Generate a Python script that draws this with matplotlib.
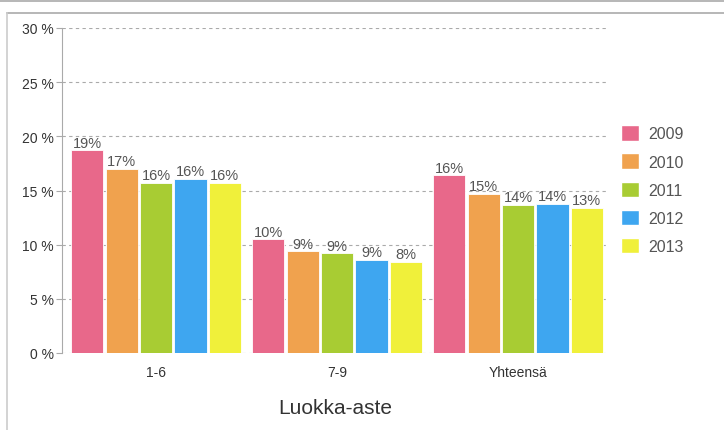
import matplotlib
matplotlib.use("Agg")
import matplotlib.pyplot as plt
from matplotlib.lines import Line2D
from matplotlib.patches import Patch
import numpy as np

plt.rcParams['font.family'] = ['Liberation Sans', 'DejaVu Sans']

categories = ["1-6", "7-9", "Yhteensä"]
years = ["2009", "2010", "2011", "2012", "2013"]
values = {
    "2009": [18.7, 10.5, 16.4],
    "2010": [17.0, 9.4, 14.7],
    "2011": [15.7, 9.2, 13.7],
    "2012": [16.1, 8.6, 13.8],
    "2013": [15.7, 8.4, 13.4],
}
colors = ["#e8688a", "#f0a24e", "#a8cc33", "#3ea6f0", "#f0f03a"]
yticks = [0, 5, 10, 15, 20, 25, 30]

fig = plt.figure(figsize=(7.24, 4.31), dpi=100)
ax = fig.add_axes([62/724, 1-354/431, 546/724, (354-29)/431])

x = np.arange(len(categories))
pitch = 0.19
width = 0.178
for i, (yr, c) in enumerate(zip(years, colors)):
    pos = x + (i - 2) * pitch
    ax.bar(pos, values[yr], width=width, color=c, edgecolor="white", linewidth=0.6, zorder=3)
    for xp, v in zip(pos, values[yr]):
        ax.text(xp, v + 0.05, f"{round(v):.0f}%", ha="center", va="bottom",
                fontsize=10.5, color="#555555", zorder=4)

ax.set_xlim(-0.52, 2.497)
ax.set_ylim(0, 30)
ax.set_yticks(yticks)
ax.set_yticklabels([f"{t} %" for t in yticks], fontsize=10, color="#333333")
ax.set_xticks(x)
ax.set_xticklabels(categories, fontsize=10, color="#333333")
ax.tick_params(axis="x", length=0, pad=9)
ax.tick_params(axis="y", length=4, color="#aaaaaa", pad=2)
for yv in yticks:
    ax.axhline(yv, color="#aaaaaa", linestyle=(0, (3, 3)), linewidth=0.8, zorder=1)
for s in ["top", "right", "bottom"]:
    ax.spines[s].set_visible(False)
ax.spines["left"].set_color("#aaaaaa")
ax.spines["left"].set_linewidth(0.8)
ax.set_xlabel("Luokka-aste", fontsize=15, color="#333333", labelpad=13)

handles = [Patch(facecolor=c, edgecolor="white") for c in colors]
fig.legend(handles, years, loc="upper left", bbox_to_anchor=(607/724, 1-112/431),
           frameon=False, fontsize=11.5, handlelength=1.1, handleheight=1.1,
           labelspacing=0.75, handletextpad=0.6, labelcolor="#555555")

fig.add_artist(Line2D([0, 1], [1-2/431, 1-2/431], color="#aaaaaa", linewidth=1.2))
fig.add_artist(Line2D([7/724, 1], [1-14/431, 1-14/431], color="#aaaaaa", linewidth=1.2))
fig.add_artist(Line2D([7/724, 7/724], [0, 1-14/431], color="#cccccc", linewidth=1.2))

fig.savefig("out.png", dpi=100)
